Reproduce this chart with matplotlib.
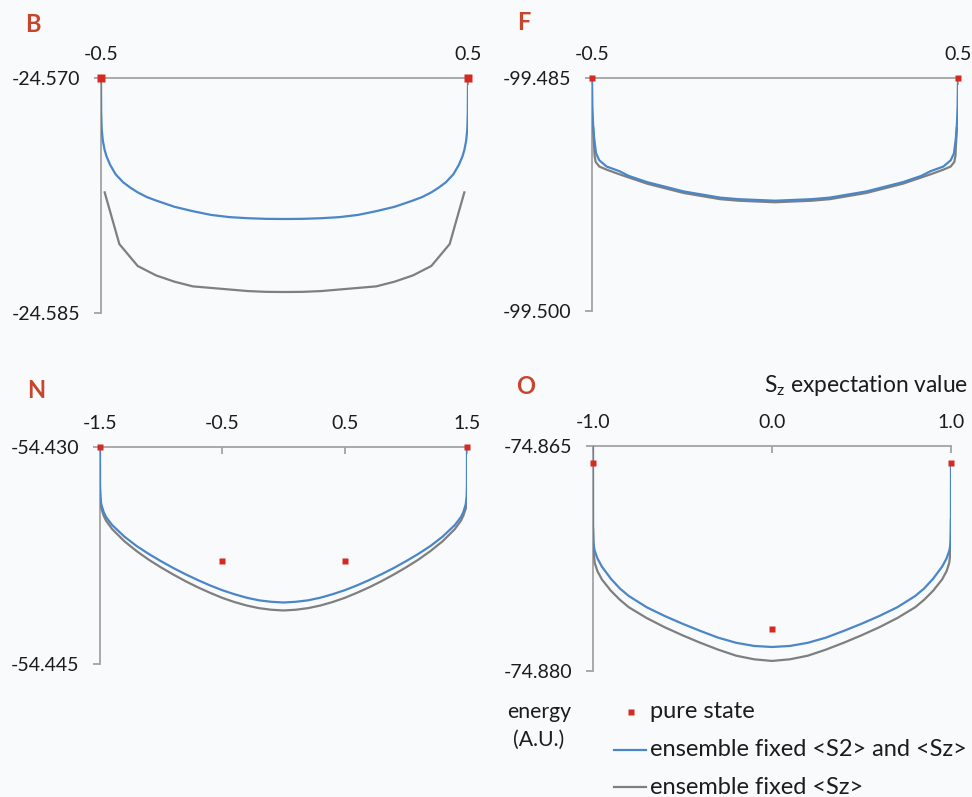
import matplotlib
matplotlib.use("Agg")
import matplotlib.pyplot as plt
from matplotlib.lines import Line2D

plt.rcParams['font.family'] = ['Lato', 'DejaVu Sans']
plt.rcParams['axes.unicode_minus'] = False
plt.rcParams['mathtext.fontset'] = 'custom'
plt.rcParams['mathtext.rm'] = 'Lato'
plt.rcParams['mathtext.it'] = 'Lato:italic'

# ---------------- data ----------------
# Panel B
b_xticks = [-0.5, 0.5]
b_xlabels = ['-0.5', '0.5']
b_yticks = [-24.585, -24.570]
b_ylabels = ['-24.585', '-24.570']
b_pure_x = [-0.5, 0.5]
b_pure_e = [-24.570, -24.570]
b_s2sz_x = [-0.5, -0.4995, -0.498, -0.495, -0.49, -0.485, -0.475, -0.46, -0.44, -0.42, -0.40,
            -0.375, -0.35, -0.30, -0.25, -0.20, -0.15, -0.10, -0.05, 0.0,
            0.05, 0.10, 0.15, 0.20, 0.25, 0.30, 0.35, 0.375,
            0.40, 0.42, 0.44, 0.46, 0.475, 0.485, 0.49, 0.495, 0.498, 0.4995, 0.5]
b_s2sz_e = [-24.5700, -24.5722, -24.5733, -24.5740, -24.5746, -24.5750, -24.57555, -24.57615, -24.57665, -24.5770, -24.5773,
            -24.5776, -24.57782, -24.57822, -24.5785, -24.57874, -24.57888, -24.57895, -24.57899, -24.5790,
            -24.57899, -24.57895, -24.57888, -24.57874, -24.5785, -24.57822, -24.57782, -24.5776,
            -24.5773, -24.5770, -24.57665, -24.57615, -24.57555, -24.5750, -24.5746, -24.5740, -24.5733, -24.5722, -24.5700]
b_sz_x = [-0.49, -0.45, -0.40, -0.35, -0.30, -0.25, -0.20, -0.15, -0.10, -0.05, 0.0,
          0.05, 0.10, 0.15, 0.20, 0.25, 0.30, 0.35, 0.40, 0.45, 0.49]
b_sz_e = [-24.5773, -24.5806, -24.5820, -24.5826, -24.5830, -24.5833, -24.5834, -24.5835, -24.5836, -24.58365, -24.58366,
          -24.58365, -24.5836, -24.5835, -24.5834, -24.5833, -24.5830, -24.5826, -24.5820, -24.5806, -24.5773]

# Panel F
f_xticks = [-0.5, 0.5]
f_xlabels = ['-0.5', '0.5']
f_yticks = [-99.500, -99.485]
f_ylabels = ['-99.500', '-99.485']
f_pure_x = [-0.5, 0.5]
f_pure_e = [-99.485, -99.485]
f_s2sz_x = [-0.5, -0.499, -0.497, -0.494, -0.489, -0.48, -0.46, -0.425, -0.40, -0.35, -0.30, -0.25,
            -0.20, -0.15, -0.10, -0.05, 0.0, 0.05, 0.10, 0.15, 0.20,
            0.25, 0.30, 0.35, 0.40, 0.425, 0.46, 0.48, 0.489, 0.494, 0.497, 0.499, 0.5]
f_s2sz_e = [-99.4850, -99.4868, -99.4880, -99.4889, -99.48985, -99.4903, -99.4907, -99.4910, -99.4913, -99.4917, -99.4920, -99.4923,
            -99.4925, -99.4927, -99.4928, -99.49285, -99.4929, -99.49285, -99.4928, -99.4927, -99.4925,
            -99.4923, -99.4920, -99.4917, -99.4913, -99.4910, -99.4907, -99.4903, -99.48985, -99.4889, -99.4880, -99.4868, -99.4850]
f_sz_x = [-0.497, -0.493, -0.49, -0.48, -0.46, -0.425, -0.40, -0.35, -0.30, -0.25, -0.20, -0.15,
          -0.10, -0.05, 0.0, 0.05, 0.10, 0.15, 0.20, 0.25, 0.30, 0.35,
          0.40, 0.425, 0.46, 0.48, 0.49, 0.493, 0.497]
f_sz_e = [-99.4882, -99.4900, -99.4904, -99.4907, -99.4909, -99.4912, -99.4914, -99.4918, -99.4921, -99.4924, -99.4926, -99.4928,
          -99.4929, -99.49295, -99.4930, -99.49295, -99.4929, -99.4928, -99.4926, -99.4924, -99.4921, -99.4918,
          -99.4914, -99.4912, -99.4909, -99.4907, -99.4904, -99.4900, -99.4882]

# Panel N
n_xticks = [-1.5, -0.5, 0.5, 1.5]
n_xlabels = ['-1.5', '-0.5', '0.5', '1.5']
n_yticks = [-54.445, -54.430]
n_ylabels = ['-54.445', '-54.430']
n_pure_x = [-1.5, -0.5, 0.5, 1.5]
n_pure_e = [-54.430, -54.43785, -54.43785, -54.430]
n_s2sz_x = [-1.5, -1.4995, -1.497, -1.49, -1.47, -1.45, -1.4, -1.3, -1.2, -1.1, -1.0, -0.9, -0.8, -0.7, -0.6,
            -0.5, -0.4, -0.3, -0.2, -0.1, 0.0, 0.1, 0.2, 0.3, 0.4, 0.5,
            0.6, 0.7, 0.8, 0.9, 1.0, 1.1, 1.2, 1.3, 1.4, 1.45, 1.47, 1.49, 1.497, 1.4995, 1.5]
n_s2sz_e = [-54.43000, -54.43260, -54.43340, -54.43395, -54.43450, -54.43485, -54.43540, -54.43620, -54.43685,
            -54.43740, -54.43790, -54.43837, -54.43880, -54.43920, -54.43957,
            -54.43990, -54.44018, -54.44042, -54.44060, -54.44070, -54.44075, -54.44070, -54.44060, -54.44042,
            -54.44018, -54.43990,
            -54.43957, -54.43920, -54.43880, -54.43837, -54.43790, -54.43740, -54.43685, -54.43620, -54.43540,
            -54.43485, -54.43450, -54.43395, -54.43340, -54.43260, -54.43000]
n_sz_x = [-1.4995, -1.497, -1.49, -1.47, -1.45, -1.4, -1.3, -1.2, -1.1, -1.0, -0.9, -0.8, -0.7, -0.6,
          -0.5, -0.4, -0.3, -0.2, -0.1, 0.0, 0.1, 0.2, 0.3, 0.4, 0.5,
          0.6, 0.7, 0.8, 0.9, 1.0, 1.1, 1.2, 1.3, 1.4, 1.45, 1.47, 1.49, 1.497, 1.4995]
n_sz_e = [-54.43300, -54.43365, -54.43420, -54.43475, -54.43510, -54.43568, -54.43652, -54.43720, -54.43780,
          -54.43833, -54.43882, -54.43928, -54.43970, -54.44008,
          -54.44043, -54.44072, -54.44096, -54.44114, -54.44125, -54.44130, -54.44125, -54.44114, -54.44096,
          -54.44072, -54.44043,
          -54.44008, -54.43970, -54.43928, -54.43882, -54.43833, -54.43780, -54.43720, -54.43652, -54.43568,
          -54.43510, -54.43475, -54.43425, -54.43400, -54.43390]

# Panel O
o_xticks = [-1.0, 0.0, 1.0]
o_xlabels = ['-1.0', '0.0', '1.0']
o_yticks = [-74.880, -74.865]
o_ylabels = ['-74.880', '-74.865']
o_pure_x = [-1.0, 0.0, 1.0]
o_pure_e = [-74.86616, -74.87722, -74.86616]
o_s2sz_x = [-1.0, -0.9995, -0.998, -0.995, -0.99, -0.975, -0.95, -0.9, -0.85, -0.8, -0.7, -0.6, -0.5, -0.4,
            -0.3, -0.2, -0.1, 0.0, 0.1, 0.2, 0.3, 0.4, 0.5, 0.6, 0.7, 0.8, 0.85, 0.9, 0.95, 0.975,
            0.99, 0.995, 0.998, 0.9995, 1.0]
o_s2sz_e = [-74.86500, -74.87050, -74.87130, -74.87170, -74.87200, -74.87250, -74.87305, -74.87385, -74.87450,
            -74.87500, -74.87575, -74.87633, -74.87685, -74.87733, -74.87778, -74.87812, -74.87833, -74.87840,
            -74.87833, -74.87812, -74.87778, -74.87733, -74.87685, -74.87633, -74.87575, -74.87500, -74.87450,
            -74.87385, -74.87305, -74.87250, -74.87200, -74.87170, -74.87130, -74.87050, -74.86616]
o_sz_x = [-0.9995, -0.998, -0.995, -0.99, -0.975, -0.95, -0.9, -0.85, -0.8, -0.7, -0.6, -0.5, -0.4,
          -0.3, -0.2, -0.1, 0.0, 0.1, 0.2, 0.3, 0.4, 0.5, 0.6, 0.7, 0.8, 0.85, 0.9, 0.95, 0.975,
          0.99, 0.995, 0.998, 0.9995]
o_sz_e = [-74.87050, -74.87160, -74.87230, -74.87280, -74.87335, -74.87390, -74.87465, -74.87525, -74.87575,
          -74.87647, -74.87708, -74.87762, -74.87812, -74.87858, -74.87898, -74.87922, -74.87933,
          -74.87922, -74.87898, -74.87858, -74.87812, -74.87762, -74.87708, -74.87647, -74.87575, -74.87525,
          -74.87465, -74.87390, -74.87335, -74.87280, -74.87230, -74.87160, -74.86990]

# ---------------- style ----------------
BG = '#f9fafc'
AXIS = '#a3a3a3'
BLUE = '#4a86c8'
GRAY = '#7f7f7f'
RED = '#d42a22'
LETTER = '#c8452d'
TEXT = '#1c1c1c'
W, H = 972, 797

fig = plt.figure(figsize=(W / 100, H / 100), dpi=100, facecolor=BG)


def add_panel(box, letter, letter_xy, xticks, xlabels, yticks, ylabels,
              s2sz, sz, pure, ms):
    left, top, right, bottom = box
    ax = fig.add_axes([left / W, 1 - bottom / H, (right - left) / W, (bottom - top) / H])
    ax.set_facecolor('none')
    ax.set_xlim(xticks[0], xticks[-1])
    ax.set_ylim(yticks[0], yticks[-1])
    for side in ('right', 'bottom'):
        ax.spines[side].set_visible(False)
    for side in ('top', 'left'):
        ax.spines[side].set_color(AXIS)
        ax.spines[side].set_linewidth(1.3)
    ax.xaxis.tick_top()
    ax.set_xticks(xticks)
    ax.set_xticklabels(xlabels)
    ax.set_yticks(yticks)
    ax.set_yticklabels(ylabels)
    ax.tick_params(axis='x', direction='in', length=5, width=1.3, color=AXIS,
                   pad=11, labelsize=14, labelcolor=TEXT)
    ax.tick_params(axis='y', direction='out', length=5, width=1.3, color=AXIS,
                   pad=10, labelsize=14, labelcolor=TEXT)
    ax.plot(sz[0], sz[1], color=GRAY, lw=1.6, zorder=3)
    ax.plot(s2sz[0], s2sz[1], color=BLUE, lw=1.6, zorder=4)
    ax.plot(pure[0], pure[1], 's', color=RED, ms=ms, mec='none',
            clip_on=False, zorder=6)
    fig.text(letter_xy[0] / W, 1 - letter_xy[1] / H, letter, ha='center',
             va='center', fontsize=17, fontweight='bold', color=LETTER)
    return ax


add_panel((101, 78, 468, 313), 'B', (33, 25), b_xticks, b_xlabels, b_yticks, b_ylabels,
          (b_s2sz_x, b_s2sz_e), (b_sz_x, b_sz_e), (b_pure_x, b_pure_e), 5.5)
add_panel((592, 78, 958, 311), 'F', (524, 23), f_xticks, f_xlabels, f_yticks, f_ylabels,
          (f_s2sz_x, f_s2sz_e), (f_sz_x, f_sz_e), (f_pure_x, f_pure_e), 4)
add_panel((100, 447, 467, 664), 'N', (36, 390), n_xticks, n_xlabels, n_yticks, n_ylabels,
          (n_s2sz_x, n_s2sz_e), (n_sz_x, n_sz_e), (n_pure_x, n_pure_e), 4)
add_panel((593, 446, 951, 671), 'O', (526, 387), o_xticks, o_xlabels, o_yticks, o_ylabels,
          (o_s2sz_x, o_s2sz_e), (o_sz_x, o_sz_e), (o_pure_x, o_pure_e), 4)

# axis title above panel O
fig.text(968 / W, 1 - 386 / H, r'$\mathregular{S_z}$ expectation value', ha='right',
         va='center', fontsize=16.4, color=TEXT)

# y-axis title
fig.text(539 / W, 1 - 712 / H, 'energy', ha='center', va='center', fontsize=15.3, color=TEXT)
fig.text(539 / W, 1 - 740 / H, '(A.U.)', ha='center', va='center', fontsize=15.3, color=TEXT)

# legend
fig.add_artist(Line2D([631 / W], [1 - 712 / H], marker='s', ms=4, color=RED, mec='none',
                      transform=fig.transFigure))
fig.text(650 / W, 1 - 712 / H, 'pure state', ha='left', va='center', fontsize=17, color=TEXT)
fig.add_artist(Line2D([614 / W, 646 / W], [1 - 750 / H] * 2, color=BLUE, lw=1.6,
                      transform=fig.transFigure))
fig.text(650 / W, 1 - 750 / H, 'ensemble fixed <S2> and <Sz>', ha='left', va='center',
         fontsize=17, color=TEXT)
fig.add_artist(Line2D([614 / W, 646 / W], [1 - 787 / H] * 2, color=GRAY, lw=1.6,
                      transform=fig.transFigure))
fig.text(650 / W, 1 - 787 / H, 'ensemble fixed <Sz>', ha='left', va='center',
         fontsize=17, color=TEXT)

fig.savefig('out.png', dpi=100, facecolor=BG)
